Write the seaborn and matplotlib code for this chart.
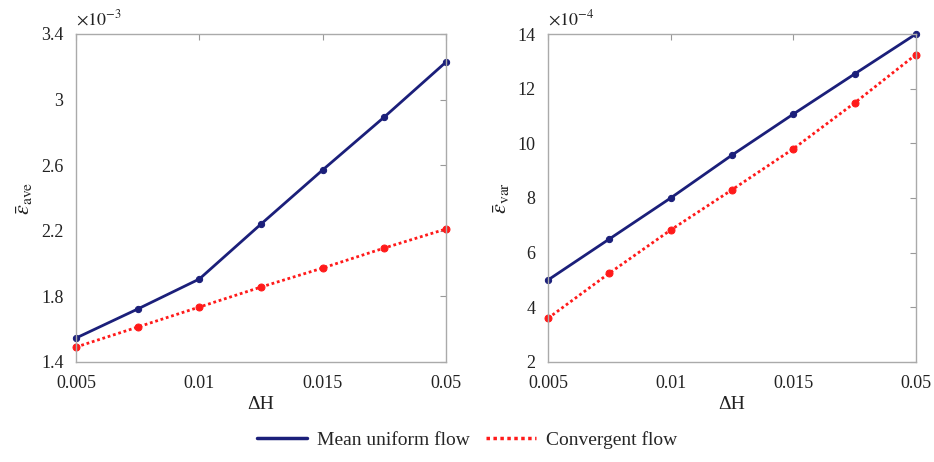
import matplotlib
matplotlib.use("Agg")
import matplotlib.pyplot as plt
import seaborn as sns
import pandas as pd
from matplotlib.lines import Line2D

# Step sizes (ΔH) sampled along the x axis, and the ones that get a tick label
step_index = [0, 1, 2, 3, 4, 5, 6]
tick_index = [0, 2, 4, 6]
tick_labels = ["0.005", "0.01", "0.015", "0.05"]

# Average error (×10^-3)
ave_uniform = [1.546, 1.723, 1.906, 2.241, 2.571, 2.894, 3.229]
ave_convergent = [1.491, 1.613, 1.735, 1.857, 1.973, 2.095, 2.211]

# Error variance (×10^-4)
var_uniform = [5.0, 6.5, 8.0, 9.57, 11.07, 12.54, 14.0]
var_convergent = [3.6, 5.25, 6.83, 8.3, 9.8, 11.48, 13.25]

series_names = ["Mean uniform flow", "Convergent flow"]
BLUE = "#1b1f7a"
RED = "#ff1a1a"

sns.set_theme(style="white")
plt.rcParams["font.family"] = ["Liberation Serif", "DejaVu Serif"]
plt.rcParams["mathtext.fontset"] = "stix"

fig = plt.figure(figsize=(9.34, 4.62), dpi=100)
ax1 = fig.add_axes([76 / 934, 1 - 362 / 462, 370 / 934, 328 / 462])
ax2 = fig.add_axes([548 / 934, 1 - 362 / 462, 368 / 934, 328 / 462])


def draw(ax, uni, conv, ylim, yticks, ylabels, exponent, ylabel):
    df = pd.DataFrame({
        "x": step_index * 2,
        "y": list(uni) + list(conv),
        "series": [series_names[0]] * len(uni) + [series_names[1]] * len(conv),
    })
    sns.lineplot(data=df[df.series == series_names[0]], x="x", y="y", ax=ax,
                 color=BLUE, lw=2.0, marker="o", markersize=4.5,
                 markeredgecolor=BLUE, legend=False)
    sns.lineplot(data=df[df.series == series_names[1]], x="x", y="y", ax=ax,
                 color=RED, lw=2.0, ls=(0, (1, 1)), marker="o", markersize=5,
                 markeredgecolor=RED, legend=False)
    ax.set_xlim(step_index[0], step_index[-1])
    ax.set_ylim(*ylim)
    ax.set_xticks(tick_index)
    ax.set_xticklabels(tick_labels)
    ax.set_yticks(yticks)
    ax.set_yticklabels(ylabels)
    ax.tick_params(direction="in", length=4, width=0.8, color="#999999",
                   labelsize=13, top=True, right=True,
                   labelcolor="#222222")
    ax.tick_params(axis="x", pad=9)
    ax.tick_params(axis="y", pad=9)
    for s in ax.spines.values():
        s.set_color("#aaaaaa")
        s.set_linewidth(1.0)
    ax.set_xlabel("ΔH", fontsize=14, color="#222222", labelpad=3)
    ax.set_ylabel(ylabel, fontsize=16, color="#222222", labelpad=4)
    ax.text(0.0, 1.015, r"$\times10^{%d}$" % exponent, transform=ax.transAxes,
            fontsize=13, color="#222222", ha="left", va="bottom")
    for sp in ax.get_lines():
        sp.set_clip_on(False)


draw(ax1, ave_uniform, ave_convergent, (1.4, 3.4),
     [1.4, 1.8, 2.2, 2.6, 3.0, 3.4], ["1.4", "1.8", "2.2", "2.6", "3", "3.4"],
     -3, r"$\bar{\varepsilon}_{\mathrm{ave}}$")
draw(ax2, var_uniform, var_convergent, (2, 14),
     [2, 4, 6, 8, 10, 12, 14], ["2", "4", "6", "8", "10", "12", "14"],
     -4, r"$\bar{\varepsilon}_{\mathrm{var}}$")

handles = [Line2D([], [], color=BLUE, lw=2.5),
           Line2D([], [], color=RED, lw=2.5, ls=(0, (1, 1)))]
fig.legend(handles, series_names, loc="center",
           bbox_to_anchor=(0.5, 1 - 440 / 462),
           ncol=2, frameon=False, fontsize=14, handlelength=2.6,
           columnspacing=0.8, handletextpad=0.5)

fig.savefig("out.png", dpi=100, facecolor="white")
